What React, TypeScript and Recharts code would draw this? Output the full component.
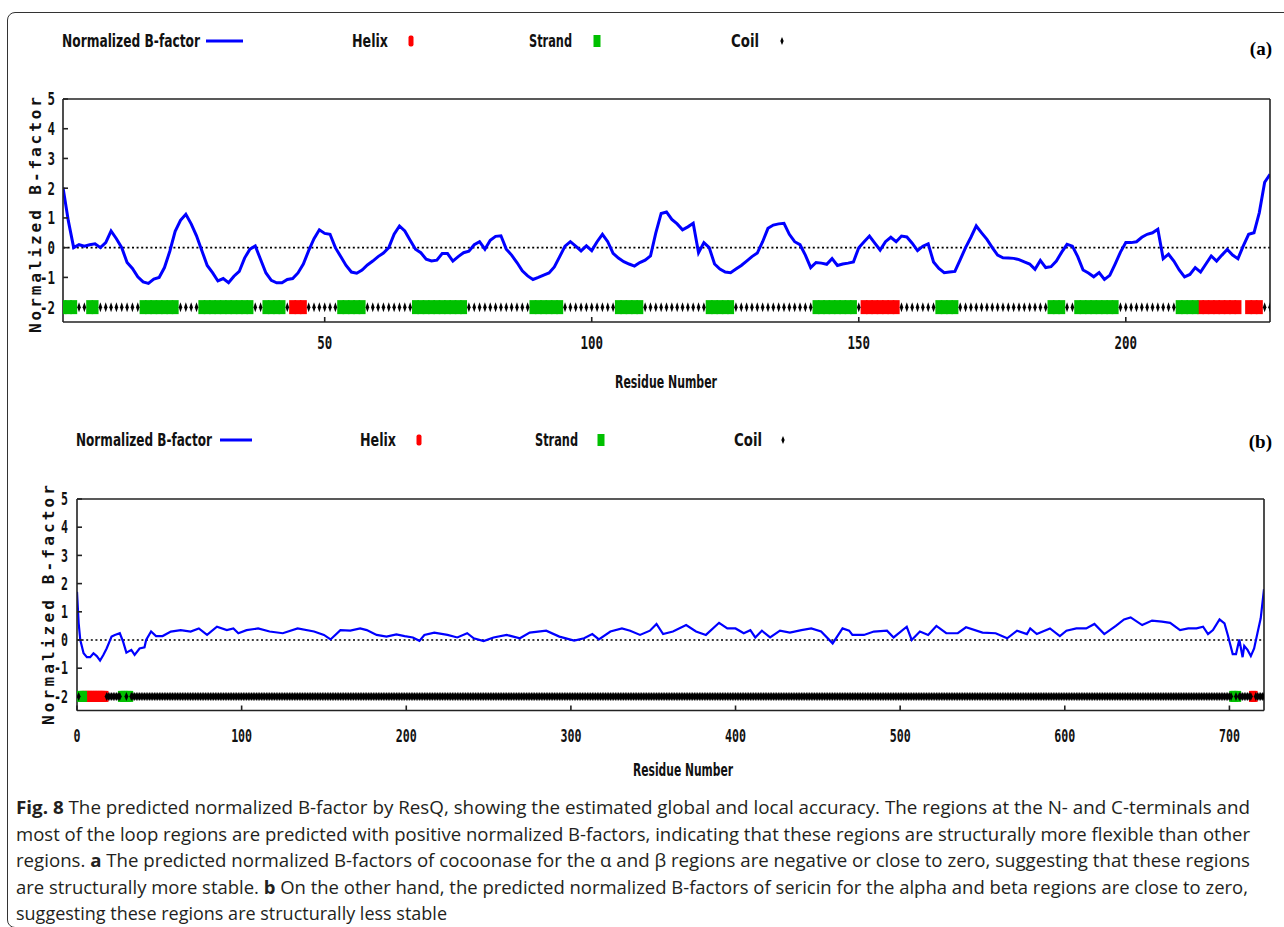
import React from "react";
import { ComposedChart, Line, Scatter, XAxis, YAxis, ReferenceLine } from "recharts";

// ---- data ----
// panel (a): cocoonase, residue -> normalized B-factor
const bFactorA: [number, number][] = [
  [1, 2.02], [2, 0.9], [3, 0.0], [4, 0.1], [5, 0.05], [6, 0.1], [7, 0.13], [8, 0], [9, 0.17], [10, 0.56],
  [11, 0.3], [12, 0], [13, -0.5], [14, -0.7], [15, -0.98], [16, -1.15], [17, -1.2], [18, -1.06], [19, -1.0], [20, -0.67],
  [21, -0.12], [22, 0.55], [23, 0.92], [24, 1.12], [25, 0.8], [26, 0.4], [27, -0.1], [28, -0.6], [29, -0.84], [30, -1.12],
  [31, -1.04], [32, -1.18], [33, -0.96], [34, -0.8], [35, -0.35], [36, -0.05], [37, 0.06], [38, -0.4], [39, -0.85], [40, -1.1],
  [41, -1.18], [42, -1.18], [43, -1.07], [44, -1.04], [45, -0.85], [46, -0.55], [47, -0.1], [48, 0.3], [49, 0.6], [50, 0.48],
  [51, 0.45], [52, 0.0], [53, -0.3], [54, -0.6], [55, -0.82], [56, -0.86], [57, -0.75], [58, -0.58], [59, -0.45], [60, -0.3],
  [61, -0.18], [62, 0.0], [63, 0.45], [64, 0.73], [65, 0.56], [66, 0.25], [67, -0.05], [68, -0.17], [69, -0.39], [70, -0.45],
  [71, -0.42], [72, -0.2], [73, -0.2], [74, -0.45], [75, -0.3], [76, -0.17], [77, -0.12], [78, 0.1], [79, 0.2], [80, -0.05],
  [81, 0.25], [82, 0.38], [83, 0.4], [84, -0.05], [85, -0.25], [86, -0.5], [87, -0.78], [88, -0.95], [89, -1.07], [90, -1.0],
  [91, -0.92], [92, -0.85], [93, -0.65], [94, -0.3], [95, 0.05], [96, 0.2], [97, 0.05], [98, -0.11], [99, 0.06], [100, -0.1],
  [101, 0.2], [102, 0.45], [103, 0.2], [104, -0.19], [105, -0.35], [106, -0.47], [107, -0.55], [108, -0.62], [109, -0.5], [110, -0.42],
  [111, -0.28], [112, 0.5], [113, 1.15], [114, 1.2], [115, 0.95], [116, 0.8], [117, 0.6], [118, 0.7], [119, 0.82], [120, -0.17],
  [121, 0.17], [122, 0.0], [123, -0.55], [124, -0.72], [125, -0.82], [126, -0.84], [127, -0.72], [128, -0.6], [129, -0.45], [130, -0.3],
  [131, -0.18], [132, 0.2], [133, 0.65], [134, 0.76], [135, 0.8], [136, 0.82], [137, 0.45], [138, 0.2], [139, 0.1], [140, -0.25],
  [141, -0.67], [142, -0.5], [143, -0.52], [144, -0.56], [145, -0.37], [146, -0.6], [147, -0.55], [148, -0.52], [149, -0.48], [150, 0.0],
  [151, 0.2], [152, 0.39], [153, 0.15], [154, -0.08], [155, 0.2], [156, 0.35], [157, 0.2], [158, 0.39], [159, 0.36], [160, 0.15],
  [161, -0.1], [162, 0.05], [163, 0.13], [164, -0.48], [165, -0.7], [166, -0.84], [167, -0.82], [168, -0.8], [169, -0.4], [170, 0.0],
  [171, 0.35], [172, 0.73], [173, 0.5], [174, 0.28], [175, 0.0], [176, -0.25], [177, -0.34], [178, -0.35], [179, -0.36], [180, -0.4],
  [181, -0.48], [182, -0.55], [183, -0.73], [184, -0.43], [185, -0.67], [186, -0.64], [187, -0.45], [188, -0.15], [189, 0.11], [190, 0.05],
  [191, -0.3], [192, -0.75], [193, -0.85], [194, -0.98], [195, -0.84], [196, -1.07], [197, -0.93], [198, -0.55], [199, -0.15], [200, 0.17],
  [201, 0.17], [202, 0.2], [203, 0.35], [204, 0.45], [205, 0.5], [206, 0.62], [207, -0.37], [208, -0.22], [209, -0.45], [210, -0.75],
  [211, -0.98], [212, -0.9], [213, -0.67], [214, -0.82], [215, -0.55], [216, -0.28], [217, -0.45], [218, -0.25], [219, -0.06], [220, -0.25],
  [221, -0.37], [222, 0.06], [223, 0.45], [224, 0.5], [225, 1.18], [226, 2.2], [227, 2.47],
];
const helixA: [number, number][] = [[44, 46], [151, 157], [214, 221], [223, 225]];
const strandA: [number, number][] = [
  [1, 3], [6, 7], [16, 22], [27, 36], [39, 42], [53, 57], [67, 76], [89, 94],
  [105, 109], [122, 126], [142, 149], [165, 168], [186, 188], [191, 198], [210, 213],
];
const unassignedA = [222];
const lastResA = 227;

// panel (b): sericin
const bFactorB: [number, number][] = [
  [0, 1.71], [1, 0.6], [2, 0], [4, -0.47], [6, -0.61], [8, -0.61], [10, -0.47], [12, -0.57], [14, -0.73], [16, -0.53],
  [18, -0.3], [21, 0.12], [23, 0.18], [26, 0.24], [28, -0.06], [30, -0.45], [33, -0.35], [35, -0.53], [38, -0.3], [41, -0.26],
  [42, 0], [45, 0.3], [48, 0.14], [52, 0.14], [57, 0.3], [63, 0.35], [69, 0.3], [74, 0.41], [79, 0.18], [85, 0.47],
  [91, 0.35], [95, 0.41], [98, 0.24], [103, 0.35], [110, 0.41], [117, 0.3], [125, 0.24], [134, 0.41], [144, 0.3], [150, 0.18],
  [154, 0.02], [160, 0.35], [166, 0.33], [172, 0.41], [176, 0.35], [182, 0.18], [188, 0.12], [194, 0.2], [199, 0.14], [204, 0.09],
  [208, -0.03], [211, 0.18], [217, 0.26], [225, 0.18], [231, 0.09], [237, 0.24], [241, 0.06], [247, -0.04], [253, 0.09], [261, 0.18],
  [269, 0.06], [275, 0.26], [285, 0.33], [293, 0.12], [302, -0.02], [308, 0.06], [313, 0.21], [317, 0.02], [324, 0.3], [331, 0.41],
  [336, 0.33], [342, 0.18], [348, 0.33], [352, 0.57], [356, 0.21], [362, 0.3], [370, 0.53], [376, 0.3], [382, 0.18], [390, 0.61],
  [395, 0.41], [400, 0.41], [405, 0.24], [409, 0.35], [412, 0.09], [416, 0.33], [421, 0.09], [427, 0.33], [433, 0.26], [440, 0.35],
  [446, 0.41], [452, 0.3], [459, -0.12], [465, 0.41], [469, 0.33], [471, 0.18], [478, 0.18], [484, 0.3], [492, 0.33], [496, 0.09],
  [504, 0.47], [507, 0], [512, 0.3], [517, 0.18], [522, 0.5], [528, 0.24], [535, 0.24], [540, 0.45], [550, 0.26], [558, 0.24],
  [565, 0.06], [571, 0.33], [577, 0.21], [579, 0.41], [583, 0.21], [591, 0.41], [597, 0.14], [601, 0.33], [607, 0.41], [613, 0.41],
  [618, 0.57], [624, 0.21], [631, 0.5], [636, 0.73], [640, 0.8], [647, 0.53], [653, 0.69], [659, 0.65], [664, 0.61], [670, 0.35],
  [675, 0.41], [680, 0.41], [684, 0.47], [687, 0.21], [690, 0.35], [694, 0.73], [697, 0.59], [699, 0.18], [702, -0.5], [704, -0.5],
  [706, 0.02], [708, -0.61], [709, -0.21], [711, -0.35], [713, -0.57], [715, -0.3], [717, 0.24], [719, 0.77], [721, 1.8],
];
const helixB: [number, number][] = [[5, 17], [714, 715]];
const strandB: [number, number][] = [[2, 4], [27, 29], [31, 32], [702, 703], [705, 705]];
const unassignedB: number[] = [];
const lastResB = 721;

const xTicksA = [50, 100, 150, 200];
const xTicksB = [0, 100, 200, 300, 400, 500, 600, 700];
const yTicks = [-2, -1, 0, 1, 2, 3, 4, 5];

const legendNames = ["Normalized B-factor", "Helix", "Strand", "Coil"];
const axisTitles = { y: "Normalized B-factor", x: "Residue Number" };

const caption: { t: string; b?: boolean }[][] = [
  [{ t: "Fig. 8", b: true }, { t: " The predicted normalized B-factor by ResQ, showing the estimated global and local accuracy. The regions at the N- and C-terminals and" }],
  [{ t: "most of the loop regions are predicted with positive normalized B-factors, indicating that these regions are structurally more flexible than other" }],
  [{ t: "regions. " }, { t: "a", b: true }, { t: " The predicted normalized B-factors of cocoonase for the α and β regions are negative or close to zero, suggesting that these regions" }],
  [{ t: "are structurally more stable. " }, { t: "b", b: true }, { t: " On the other hand, the predicted normalized B-factors of sericin for the alpha and beta regions are close to zero," }],
  [{ t: "suggesting these regions are structurally less stable" }],
];

// ---- styling ----
const BLUE = "#0000ff";
const RED = "#ff0000";
const GREEN = "#00c000";
const INK = "#111";
const PIX = "'DejaVu Sans Mono', monospace";
const LBL = "'DejaVu Sans Condensed', 'DejaVu Sans', sans-serif";
const AX = { stroke: "#222", strokeWidth: 1.6 };

function expand(segs: [number, number][]) {
  const out: number[] = [];
  segs.forEach(([a, b]) => {
    for (let r = a; r <= b; r++) out.push(r);
  });
  return out;
}

function ssRows(helix: [number, number][], strand: [number, number][], gaps: number[], last: number) {
  const h = expand(helix);
  const s = expand(strand);
  const taken = new Set([...h, ...s, ...gaps]);
  const coil: number[] = [];
  for (let r = 1; r <= last; r++) if (!taken.has(r)) coil.push(r);
  const pt = (r: number) => ({ x: r, y: -2 });
  return { helix: h.map(pt), strand: s.map(pt), coil: coil.map(pt) };
}

const xTick = (fs: number, cw: number) => (p: any) => {
  const s = String(p.payload.value);
  return (
    <text x={p.x} y={p.y} dy="0.71em" textAnchor="middle" fontFamily={PIX} fontWeight={700} fontSize={fs}
      textLength={s.length * cw} lengthAdjust="spacingAndGlyphs" fill={INK}>{s}</text>
  );
};

const yTick = (fs: number, cw: number) => (p: any) => {
  const s = String(p.payload.value);
  return (
    <text x={p.x} y={p.y} dy="0.36em" textAnchor="end" fontFamily={PIX} fontWeight={700} fontSize={fs}
      textLength={s.length * cw} lengthAdjust="spacingAndGlyphs" fill={INK}>{s}</text>
  );
};

type Geo = {
  top: number;
  margin: { top: number; right: number; bottom: number; left: number };
  xDomain: [number, number];
  xTicks: number[];
  lineW: number;
  barH: number;
  coilW: number;
  coilH: number;
  xTickMargin: number;
  yTickMargin: number;
  fs: number;
  cw: number;
};

function Panel({ bf, ss, geo }: { bf: [number, number][]; ss: ReturnType<typeof ssRows>; geo: Geo }) {
  const line = bf.map(([x, y]) => ({ x, y }));
  const h = geo.barH;
  const rectShape = (fill: string) => (p: any) => (
    <rect x={p.cx - 3.5} y={p.cy - h / 2} width={7} height={h} fill={fill} />
  );
  const coilShape = (p: any) => (
    <path
      d={`M${p.cx},${p.cy - geo.coilH / 2}L${p.cx + geo.coilW / 2},${p.cy}L${p.cx},${p.cy + geo.coilH / 2}L${p.cx - geo.coilW / 2},${p.cy}Z`}
      fill="#000"
    />
  );
  return (
    <div style={{ position: "absolute", left: 0, top: geo.top }}>
      <ComposedChart width={1284} height={400} margin={geo.margin}>
        <XAxis xAxisId="b" dataKey="x" type="number" domain={geo.xDomain} ticks={geo.xTicks} interval={0}
          allowDataOverflow height={60} tickSize={-5} tickMargin={geo.xTickMargin} tick={xTick(geo.fs, geo.cw)}
          axisLine={AX} tickLine={AX} />
        <XAxis xAxisId="t" orientation="top" dataKey="x" type="number" domain={geo.xDomain} ticks={geo.xTicks}
          interval={0} allowDataOverflow height={10} tickSize={-5} tick={false} axisLine={AX} tickLine={AX} />
        <YAxis yAxisId="l" dataKey="y" type="number" domain={[-2.5, 5]} ticks={yTicks} interval={0} allowDataOverflow
          width={40} tickSize={-5} tickMargin={geo.yTickMargin} tick={yTick(geo.fs, geo.cw)} axisLine={AX} tickLine={AX} />
        <YAxis yAxisId="r" orientation="right" dataKey="y" type="number" domain={[-2.5, 5]} ticks={yTicks} interval={0}
          allowDataOverflow width={10} tickSize={-5} tick={false} axisLine={AX} tickLine={AX} />
        <ReferenceLine xAxisId="b" yAxisId="l" y={0} stroke="#000" strokeWidth={1.6} strokeDasharray="2 2.6" />
        <Line xAxisId="b" yAxisId="l" data={line} dataKey="y" type="linear" stroke={BLUE} strokeWidth={geo.lineW}
          dot={false} isAnimationActive={false} />
        <Scatter xAxisId="b" yAxisId="l" data={ss.helix} dataKey="y" shape={rectShape(RED)} isAnimationActive={false} />
        <Scatter xAxisId="b" yAxisId="l" data={ss.strand} dataKey="y" shape={rectShape(GREEN)} isAnimationActive={false} />
        <Scatter xAxisId="b" yAxisId="l" data={ss.coil} dataKey="y" shape={coilShape} isAnimationActive={false} />
      </ComposedChart>
    </div>
  );
}

type LegendPos = {
  y: number;
  name: [number, number];
  line: [number, number];
  helix: [number, number];
  helixDot: number;
  strand: [number, number];
  strandDot: number;
  coil: [number, number];
  coilDot: number;
};

function LegendRow({ p }: { p: LegendPos }) {
  const txt = (x: number, w: number, s: string) => (
    <text x={x} y={p.y} dy="0.36em" fontFamily={LBL} fontWeight={700} fontSize={18} textLength={w}
      lengthAdjust="spacingAndGlyphs" fill={INK}>{s}</text>
  );
  return (
    <g>
      {txt(p.name[0], p.name[1], legendNames[0])}
      <line x1={p.line[0]} x2={p.line[1]} y1={p.y} y2={p.y} stroke={BLUE} strokeWidth={3} />
      {txt(p.helix[0], p.helix[1], legendNames[1])}
      <rect x={p.helixDot - 2.5} y={p.y - 5.5} width={5} height={11} rx={2} fill={RED} />
      {txt(p.strand[0], p.strand[1], legendNames[2])}
      <rect x={p.strandDot - 3.5} y={p.y - 6} width={7} height={12} fill={GREEN} />
      {txt(p.coil[0], p.coil[1], legendNames[3])}
      <path d={`M${p.coilDot},${p.y - 4}L${p.coilDot + 1.7},${p.y}L${p.coilDot},${p.y + 4}L${p.coilDot - 1.7},${p.y}Z`} fill="#000" />
    </g>
  );
}

const legendA: LegendPos = {
  y: 41, name: [62, 138], line: [206, 243], helix: [352, 36], helixDot: 411,
  strand: [529, 43], strandDot: 597, coil: [731, 28], coilDot: 782,
};
const legendB: LegendPos = {
  y: 440, name: [76, 136], line: [220, 252], helix: [360, 36], helixDot: 419,
  strand: [535, 43], strandDot: 601, coil: [734, 28], coilDot: 783,
};

const geoA: Geo = {
  top: 0, margin: { top: 89, right: 4, bottom: 18, left: 23 }, xDomain: [1, 227], xTicks: xTicksA,
  lineW: 3, barH: 14, coilW: 3.5, coilH: 10, xTickMargin: 19, yTickMargin: 13, fs: 18, cw: 7.5,
};
const geoB: Geo = {
  top: 400, margin: { top: 89, right: 10, bottom: 29.5, left: 37 }, xDomain: [0, 721], xTicks: xTicksB,
  lineW: 2.2, barH: 11, coilW: 4, coilH: 9, xTickMargin: 24, yTickMargin: 14, fs: 17, cw: 7,
};

export default function App() {
  const ssA = ssRows(helixA, strandA, unassignedA, lastResA);
  const ssB = ssRows(helixB, strandB, unassignedB, lastResB);
  const capY0 = 814;
  const capDy = 26.5;
  return (
    <div style={{ position: "relative", width: 1284, height: 927, overflow: "hidden", background: "#fff" }}>
      <style>{"body{margin:0}"}</style>
      <div style={{
        position: "absolute", left: 7, top: 12, width: 1400, height: 916,
        border: "1.5px solid #333", borderRadius: 8, boxSizing: "border-box",
      }} />
      <Panel bf={bFactorA} ss={ssA} geo={geoA} />
      <Panel bf={bFactorB} ss={ssB} geo={geoB} />
      <svg width={1284} height={927} style={{ position: "absolute", left: 0, top: 0, pointerEvents: "none" }}>
        <LegendRow p={legendA} />
        <LegendRow p={legendB} />
        <text x={1272} y={48} dy="0.35em" textAnchor="end" fontFamily="'Liberation Serif', serif" fontWeight={700} fontSize={19} fill="#000">(a)</text>
        <text x={1272} y={441} dy="0.35em" textAnchor="end" fontFamily="'Liberation Serif', serif" fontWeight={700} fontSize={19} fill="#000">(b)</text>
        <text transform="translate(35,215) rotate(-90)" dy="0.36em" textAnchor="middle" fontFamily={PIX} fontWeight={700}
          fontSize={16} textLength={236} lengthAdjust="spacing" fill={INK}>{axisTitles.y}</text>
        <text transform="translate(48,605) rotate(-90)" dy="0.36em" textAnchor="middle" fontFamily={PIX} fontWeight={700}
          fontSize={16} textLength={240} lengthAdjust="spacing" fill={INK}>{axisTitles.y}</text>
        <text x={666} y={382} dy="0.36em" textAnchor="middle" fontFamily={LBL} fontWeight={700} fontSize={18}
          textLength={102} lengthAdjust="spacingAndGlyphs" fill={INK}>{axisTitles.x}</text>
        <text x={683} y={770} dy="0.36em" textAnchor="middle" fontFamily={LBL} fontWeight={700} fontSize={18}
          textLength={100} lengthAdjust="spacingAndGlyphs" fill={INK}>{axisTitles.x}</text>
        {caption.map((parts, i) => (
          <text key={i} x={16} y={capY0 + i * capDy} fontFamily="'Open Sans', sans-serif" fontSize={18} fill="#231f20"
            style={{ whiteSpace: "pre" }}
            {...(i < 4 ? { textLength: i === 3 ? 1232 : 1234, lengthAdjust: "spacingAndGlyphs" } : {})}>
            {parts.map((s, j) => (
              <tspan key={j} fontWeight={s.b ? 700 : 400}>{s.t}</tspan>
            ))}
          </text>
        ))}
      </svg>
    </div>
  );
}
